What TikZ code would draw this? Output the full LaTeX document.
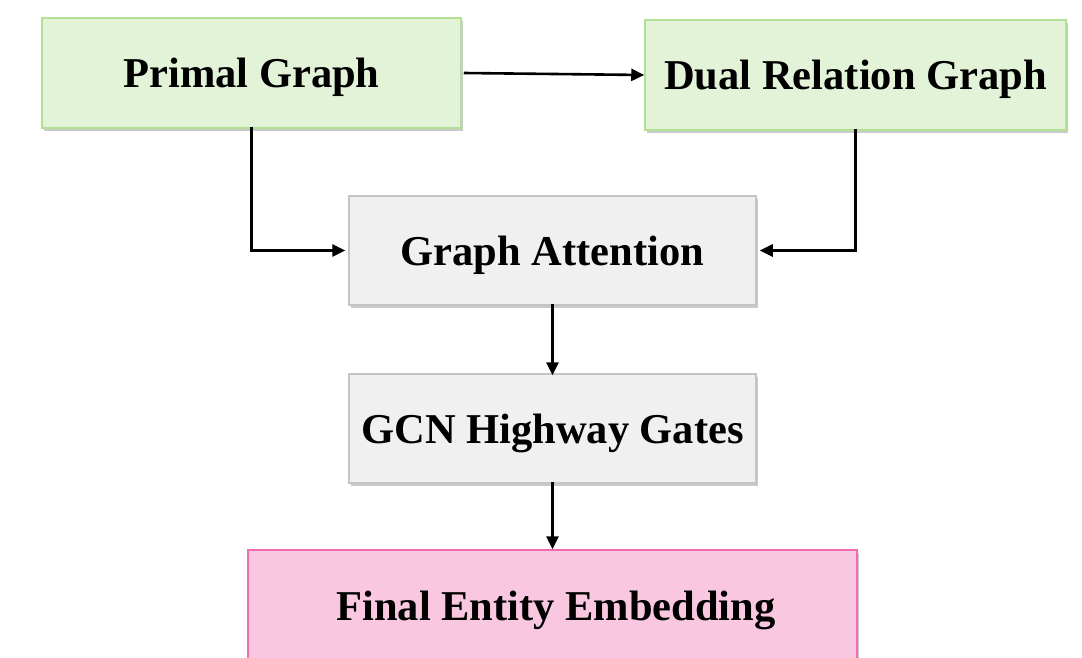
\documentclass[tikz,border=0pt]{standalone}
\usepackage{fontspec}
\setmainfont{Liberation Serif}
\usetikzlibrary{arrows.meta,shadows,positioning}
\definecolor{gfill}{HTML}{E2F3D8}
\definecolor{gdraw}{HTML}{B2E196}
\definecolor{yfill}{HTML}{F0F0F0}
\definecolor{ydraw}{HTML}{C4C4C4}
\definecolor{pfill}{HTML}{F9C8E0}
\definecolor{pdraw}{HTML}{F06CAE}
\begin{document}
\begin{tikzpicture}[x=1pt,y=-1pt,
  lbl/.style={font=\fontsize{42.5}{50}\selectfont\bfseries, text depth=0pt},
  box/.style={rectangle, inner sep=0pt, line width=1.5pt, lbl,
    drop shadow={shadow xshift=1.5pt, shadow yshift=-3pt, opacity=0.35, fill=black!60}},
  greenbox/.style={box, fill=gfill, draw=gdraw},
  graybox/.style={box, fill=yfill, draw=ydraw},
  pinkbox/.style={box, fill=pfill, draw=pdraw},
  conn/.style={line width=2.6pt, -{Triangle[length=13pt,width=12pt]}}]
\useasboundingbox (0,0) rectangle (1082,658);
\node[greenbox, minimum width=419pt, minimum height=110pt] (p) at (251.5,73) {Primal Graph};
\node[greenbox, minimum width=421pt, minimum height=110pt] (d) at (855.5,75) {Dual Relation Graph};
\node[graybox, minimum width=407pt, minimum height=109pt] (ga) at (552.5,250.5) {Graph Attention};
\node[graybox, minimum width=407pt, minimum height=109pt] (gh) at (552.5,428.5) {GCN Highway Gates};
\node[pinkbox, minimum width=609pt, minimum height=124pt] (fe) at (552.5,612) {};
\node[lbl] (fet) at (556,606) {Final Entity Embedding};
\draw[conn] ([xshift=2pt]p.east) -- (d.west);
\draw[conn] ([yshift=2pt]p.south) |- ([xshift=-3pt]ga.west);
\draw[conn] ([yshift=2pt]d.south) |- ([xshift=3pt]ga.east);
\draw[conn] ([yshift=2pt]ga.south) -- ([yshift=-2pt]gh.north);
\draw[conn] ([yshift=2pt]gh.south) -- (fe.north);
\end{tikzpicture}
\end{document}
